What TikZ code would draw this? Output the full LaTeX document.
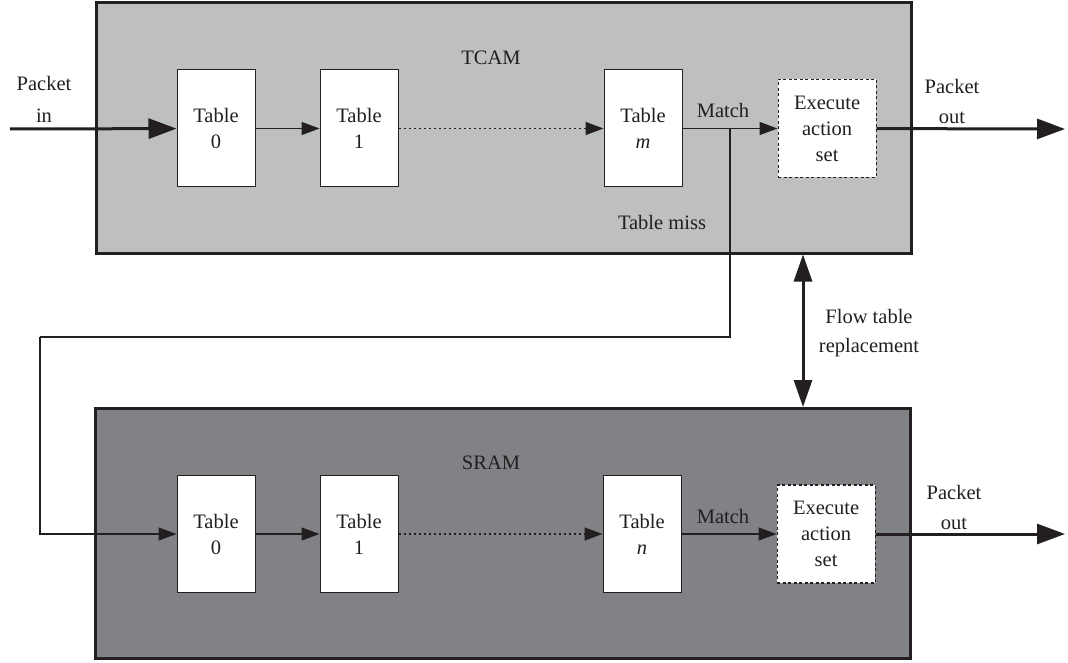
\documentclass[tikz,border=0pt]{standalone}
\usepackage{fontspec}
\setmainfont{Liberation Serif}
\usepackage{tikz}
\usetikzlibrary{arrows.meta,positioning}
\definecolor{MemInk}{HTML}{231F20}
\definecolor{TcamGray}{HTML}{BEBFC1}
\definecolor{SramGray}{HTML}{808285}
\newcommand{\figfont}{\fontsize{20.5}{26}\selectfont}
\tikzset{
  >={Triangle[length=18pt,width=13pt]},
  flow/.style={->,line width=1.3pt,draw=MemInk},
  dotflow/.style={flow,dash pattern=on 2pt off 3pt},
  link/.style={line width=1.3pt,draw=MemInk},
  bigflow/.style={-{Triangle[length=28pt,width=20pt]},line width=3pt,draw=MemInk},
  swapflow/.style={{Triangle[length=27pt,width=18pt]}-{Triangle[length=27pt,width=18pt]},
    line width=3pt,draw=MemInk},
  membox/.style={draw=MemInk,line width=3pt,minimum width=815pt,minimum height=250pt},
  tablebox/.style={draw=MemInk,fill=white,line width=1pt,
    minimum width=78pt,minimum height=117pt,align=center,inner sep=0pt},
  actionbox/.style={draw=MemInk,fill=white,line width=1.2pt,dash pattern=on 3pt off 2.5pt,
    minimum width=98pt,minimum height=98pt,align=center,inner sep=0pt},
  lbl/.style={text=MemInk,align=center,inner sep=0pt}
}

\begin{document}
\begin{tikzpicture}[x=1pt,y=-1pt,font=\figfont,text=MemInk]
    \useasboundingbox (0,0) rectangle (1068,663);
    % memory blocks
    \node[membox,fill=TcamGray] (tcam) at (503.5,128) {};
    \node[membox,fill=SramGray] (sram) at (502.5,533.5) {};
    \node[lbl] (tcamlbl) at (491,58) {TCAM};
    \node[lbl] (sramlbl) at (491,463) {SRAM};
    % TCAM pipeline
    \node[tablebox] (t0) at (216,128.5) {Table\\0};
    \node[tablebox,right=64pt of t0] (t1) {Table\\1};
    \node[tablebox] (tm) at (643,128.5) {Table\\\textit{m}};
    \node[actionbox,right=95pt of tm] (exec) {Execute\\action\\set};
    % SRAM pipeline
    \node[tablebox] (s0) at (216,534) {Table\\0};
    \node[tablebox,right=64pt of s0] (s1) {Table\\1};
    \node[tablebox] (sn) at (642,534) {Table\\\textit{n}};
    \node[actionbox,right=95pt of sn] (sexec) {Execute\\action\\set};
    % free ends
    \coordinate (pin) at (10,129);
    \coordinate (pout) at (1065,129);
    \coordinate (spout) at (1065,534);
    \coordinate (miss) at (730,129);
    \coordinate (loop) at (40,337);
    \coordinate (swap) at (803,0);
    % labels
    \node[lbl] (pinlbl) at (44,99) {Packet\\[6pt]in};
    \node[lbl] (poutlbl) at (952,101) {Packet\\[4pt]out};
    \node[lbl] (spoutlbl) at (954,507) {Packet\\[4pt]out};
    \node[lbl] (matchlbl) at (723,110) {Match};
    \node[lbl] (smatchlbl) at (723,516) {Match};
    \node[lbl] (misslbl) at (662,222) {Table miss};
    \node[lbl] (swaplbl) at (869,333) {Flow table\\[3pt]replacement};
    % connectors
    \draw[bigflow] (pin) -- (t0);
    \draw[flow] (t0) -- (t1);
    \draw[dotflow] (t1) -- (tm);
    \draw[flow] (tm) -- (exec);
    \draw[bigflow] (exec) -- (pout);
    \draw[link] (miss) |- (loop);
    \draw[flow] (loop) |- (s0);
    \draw[flow] (s0) -- (s1);
    \draw[dotflow] (s1) -- (sn);
    \draw[flow] (sn) -- (sexec);
    \draw[bigflow] (sexec) -- (spout);
    \draw[swapflow] (tcam.south -| swap) -- (sram.north -| swap);
  \end{tikzpicture}
\end{document}
